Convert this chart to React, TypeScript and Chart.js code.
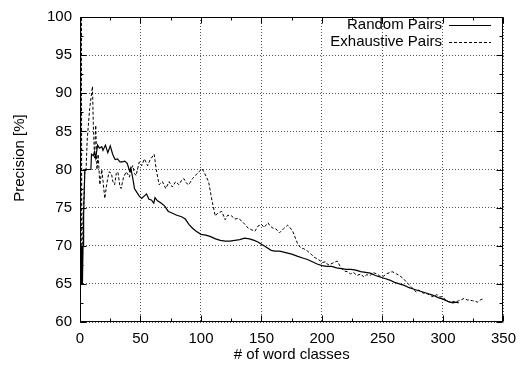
import React, { useEffect, useRef } from "react";
import { Chart, registerables } from "chart.js";
Chart.register(...registerables);

const seriesNames = ["Random Pairs", "Exhaustive Pairs"];
const xTitle = "# of word classes";
const yTitle = "Precision [%]";
const xTickValues = [0, 50, 100, 150, 200, 250, 300, 350];
const yTickValues = [60, 65, 70, 75, 80, 85, 90, 95, 100];

const randomX = [1, 1.3, 1.7, 2, 2.5, 3, 4, 5, 9, 9.5, 11, 12, 13, 14.5, 16, 18, 19, 21, 23, 25, 27, 29, 31, 33, 35, 37, 39, 41, 42, 44, 45, 47, 49, 51, 53, 55, 57, 59, 61, 62, 64, 67, 70, 73, 76, 80, 84, 87, 90, 93, 96, 100, 104, 108, 112, 116, 120, 124, 128, 132, 136, 140, 144, 147, 150, 154, 158, 161, 165, 170, 175, 180, 184, 188, 192, 196, 200, 204, 208, 212, 216, 220, 224, 228, 232, 236, 240, 244, 248, 252, 256, 260, 264, 268, 272, 276, 280, 284, 288, 292, 296, 300, 304, 308, 311, 313];
const randomY = [70, 65, 70, 65, 70, 74, 80, 80, 80, 82, 81.8, 82.3, 81.5, 83.2, 82.8, 83, 82.5, 83.2, 82.2, 83.1, 82, 81.3, 81.4, 81, 81, 81.1, 80.8, 79.8, 80.2, 78.5, 77.5, 77, 76.5, 76.2, 76.5, 76.8, 76.1, 76, 75.6, 76.3, 75.9, 75.6, 75.2, 74.5, 74.3, 74.0, 73.8, 73.5, 72.8, 72.3, 71.9, 71.5, 71.4, 71.2, 70.9, 70.7, 70.6, 70.6, 70.7, 70.8, 71.0, 70.9, 70.7, 70.5, 70.2, 69.8, 69.4, 69.3, 69.3, 69.1, 68.9, 68.6, 68.4, 68.2, 67.9, 67.6, 67.4, 67.3, 67.3, 67.1, 67.0, 66.9, 66.9, 66.8, 66.6, 66.5, 66.4, 66.1, 65.9, 65.7, 65.5, 65.2, 65.0, 64.8, 64.5, 64.3, 64.1, 63.9, 63.7, 63.5, 63.2, 63.0, 62.7, 62.5, 62.6, 62.5];

const exhaustiveX = [0.8, 1.1, 1.5, 2, 2.5, 3, 4, 5, 6, 8, 10.3, 11, 12, 13, 14, 15, 16.4, 18, 19, 20.5, 22, 24, 26, 27, 28.6, 30, 31.3, 33, 34, 36, 38.2, 40.9, 42, 43.6, 45, 46.3, 49, 51, 53.2, 55.9, 58, 61.3, 63, 65.4, 68.1, 70.9, 73.6, 76.3, 79, 81.8, 84, 85.9, 88, 89.9, 93, 97, 100.8, 103, 106.3, 109, 111.8, 114, 117.2, 120, 122, 125.4, 128, 130.8, 134, 136.3, 139, 141.7, 144.5, 147.2, 150, 152, 155.4, 157, 159.5, 162, 164.9, 168, 171.7, 173, 175.8, 178, 180, 182.6, 185, 188, 191, 193.5, 197, 200.3, 203, 205, 207.1, 210, 212.6, 215, 218, 221, 223.5, 226, 229, 232, 234.5, 237, 239.9, 242, 245.3, 248, 250.8, 253, 256.2, 258, 261.7, 264, 267.2, 270, 272.6, 275, 278, 280, 283.5, 287, 291.7, 295, 297, 299.9, 302, 305.3, 308, 310.7, 313, 315, 317.5, 320, 324.4, 327, 328.5, 331, 333.9];
const exhaustiveY = [66, 100, 70, 67, 74, 75, 80, 80, 84, 88, 90.9, 86, 81.5, 85.8, 80, 82, 78, 80, 78.5, 76.2, 78, 79.7, 79.5, 78.5, 78, 79.5, 79.7, 77.8, 77.5, 79, 79.7, 79, 80, 80.5, 79.5, 79.2, 81, 80.5, 81.4, 80.5, 81.3, 82, 80, 78, 78.4, 77.5, 78.4, 77.7, 78.4, 78, 78.6, 78.8, 78.2, 78, 78.8, 79.5, 80.1, 79.5, 78.4, 76, 73.9, 74.3, 74.5, 73.4, 74, 73.9, 73.5, 73.6, 73.2, 72.8, 72.3, 72.1, 71.9, 72.6, 72.8, 72.4, 73.0, 72.6, 72.3, 72.2, 71.7, 72.2, 72.7, 72.5, 71.9, 71, 70.2, 69.7, 69.6, 69.3, 68.9, 68.5, 68.2, 67.8, 67.9, 67.5, 67.6, 67.8, 68.0, 67.3, 66.7, 66.6, 66.3, 66.5, 66.1, 66.3, 65.9, 66.2, 66.1, 66.5, 66.3, 66.0, 66.0, 66.3, 66.5, 66.6, 66.3, 66.1, 65.7, 65.2, 64.8, 64.4, 63.9, 64.2, 63.8, 63.7, 63.3, 63.6, 63.3, 63.3, 62.9, 62.6, 62.7, 62.6, 62.8, 62.9, 63.1, 62.9, 62.8, 62.7, 62.6, 62.9, 63.1];

const FONT = '"Liberation Sans", Arial, Helvetica, sans-serif';
const FONT_SIZE = 15;

function toPoints(xs: number[], ys: number[]) {
  return xs.map((x, i) => ({ x, y: ys[i] }));
}

export default function App() {
  const ref = useRef<HTMLCanvasElement>(null);
  useEffect(() => {
    document.body.style.margin = "0";
    const decor = {
      id: "decor",
      afterDraw(chart: any) {
        const { ctx, chartArea: a, scales } = chart;
        const xs = scales.x;
        const ys = scales.y;
        const L = Math.round(a.left) + 0.5;
        const R = Math.round(a.right) - 0.5;
        const T = Math.round(a.top) + 0.5;
        const B = Math.round(a.bottom) - 0.5;
        ctx.save();
        ctx.strokeStyle = "#000";
        ctx.lineWidth = 1;
        ctx.setLineDash([]);
        ctx.beginPath();
        for (let i = 0; i < xTickValues.length * 2 - 1; i++) {
          const v = xTickValues[0] + (i * (xTickValues[1] - xTickValues[0])) / 2;
          const px = Math.round(xs.getPixelForValue(v)) + 0.5;
          const len = i % 2 === 0 ? 6 : 3;
          ctx.moveTo(px, B);
          ctx.lineTo(px, B - len);
          ctx.moveTo(px, T);
          ctx.lineTo(px, T + len);
        }
        for (let i = 0; i < yTickValues.length * 2 - 1; i++) {
          const v = yTickValues[0] + (i * (yTickValues[1] - yTickValues[0])) / 2;
          const py = Math.round(ys.getPixelForValue(v)) + 0.5;
          const len = i % 2 === 0 ? 6 : 3;
          ctx.moveTo(L, py);
          ctx.lineTo(L + len, py);
          ctx.moveTo(R, py);
          ctx.lineTo(R - len, py);
        }
        ctx.stroke();
        ctx.strokeRect(L, T, R - L, B - T);

        ctx.fillStyle = "#000";
        ctx.font = `${FONT_SIZE}px ${FONT}`;
        ctx.textAlign = "right";
        ctx.textBaseline = "middle";
        const legendY = [25, 42];
        const dashes = [[], [3, 2]];
        seriesNames.forEach((name, i) => {
          ctx.fillText(name, 442, legendY[i]);
          ctx.beginPath();
          ctx.setLineDash(dashes[i]);
          ctx.lineWidth = i === 0 ? 1.2 : 1;
          ctx.moveTo(449, legendY[i] + 0.5);
          ctx.lineTo(491, legendY[i] + 0.5);
          ctx.stroke();
        });
        ctx.setLineDash([]);

        ctx.textAlign = "center";
        ctx.fillText(xTitle, (a.left + a.right) / 2, 355);
        ctx.translate(20, 158);
        ctx.rotate(-Math.PI / 2);
        ctx.fillText(yTitle, 0, 0);
        ctx.restore();
      },
    };

    const chart = new Chart(ref.current as HTMLCanvasElement, {
      type: "line",
      data: {
        datasets: [
          {
            label: seriesNames[0],
            data: toPoints(randomX, randomY),
            borderColor: "#000",
            borderWidth: 1.2,
            pointRadius: 0,
            tension: 0,
            fill: false,
          },
          {
            label: seriesNames[1],
            data: toPoints(exhaustiveX, exhaustiveY),
            borderColor: "#000",
            borderWidth: 1,
            borderDash: [3, 2],
            pointRadius: 0,
            tension: 0,
            fill: false,
          },
        ],
      },
      options: {
        animation: false,
        responsive: false,
        devicePixelRatio: 1,
        layout: { padding: { left: 0, top: 13, right: 16, bottom: 0 } },
        plugins: { legend: { display: false }, tooltip: { enabled: false } },
        scales: {
          x: {
            type: "linear",
            min: xTickValues[0],
            max: xTickValues[xTickValues.length - 1],
            afterFit: (s: any) => {
              s.height = 47;
            },
            afterBuildTicks: (s: any) => {
              s.ticks = xTickValues.map((v) => ({ value: v }));
            },
            ticks: { color: "#000", padding: 8, maxRotation: 0, font: { family: FONT, size: FONT_SIZE } },
            grid: { color: "#555", lineWidth: 1, drawTicks: false } as any,
            border: { display: false, dash: [1, 2] },
          },
          y: {
            type: "linear",
            min: yTickValues[0],
            max: yTickValues[yTickValues.length - 1],
            afterFit: (s: any) => {
              s.width = 80;
            },
            afterBuildTicks: (s: any) => {
              s.ticks = yTickValues.map((v) => ({ value: v }));
            },
            ticks: { color: "#000", padding: 8, font: { family: FONT, size: FONT_SIZE } },
            grid: { color: "#555", lineWidth: 1, drawTicks: false } as any,
            border: { display: false, dash: [1, 2] },
          },
        },
      } as any,
      plugins: [decor],
    });
    return () => chart.destroy();
  }, []);
  return (
    <div style={{ width: 524, height: 369 }}>
      <canvas ref={ref} width={524} height={369} style={{ display: "block" }} />
    </div>
  );
}
